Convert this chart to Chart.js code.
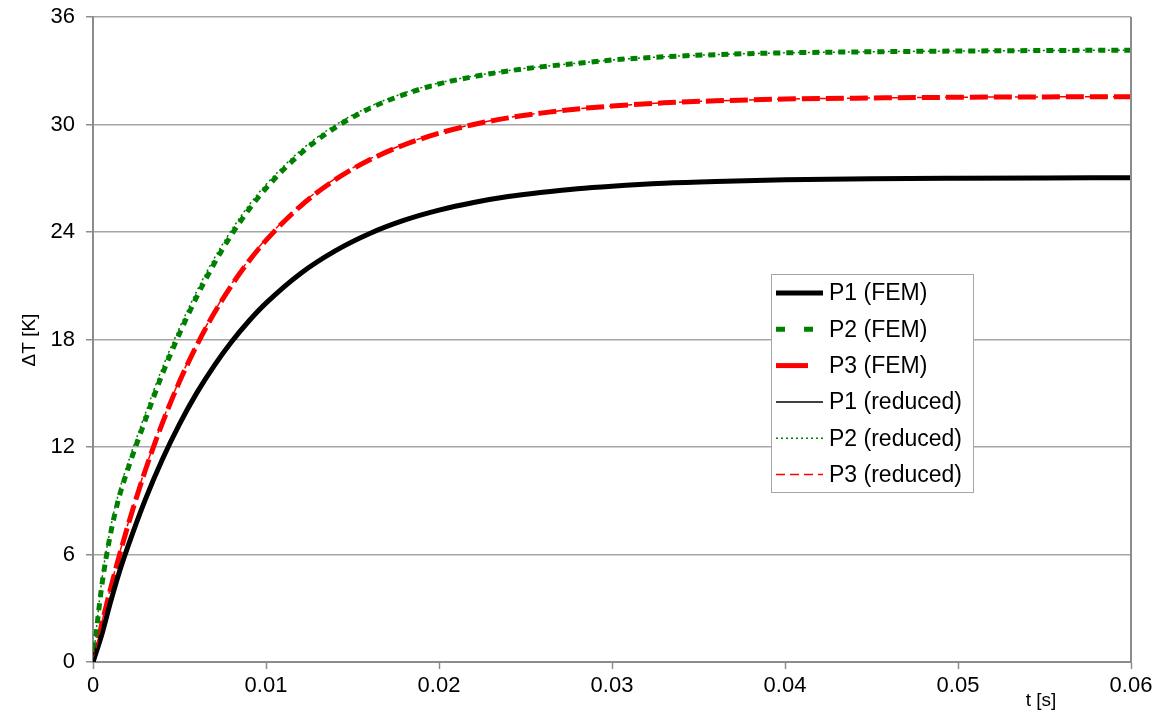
<!DOCTYPE html>
<html>
<head>
<meta charset="utf-8">
<script src="https://cdn.jsdelivr.net/npm/chart.js@4/dist/chart.umd.min.js"></script>
<style>
  html, body { margin: 0; padding: 0; background: #fff; }
  #wrap { width: 1176px; height: 714px; }
</style>
</head>
<body>
<div id="wrap"><canvas id="tempChart" width="1176" height="714"></canvas></div>
<script>
// time axis [s]
const tValues = [0, 0.0005, 0.001, 0.0015, 0.002, 0.003, 0.004, 0.005, 0.006, 0.007, 0.008, 0.009, 0.010,
    0.012, 0.014, 0.016, 0.018, 0.020, 0.022, 0.024, 0.026, 0.028, 0.030, 0.033, 0.036, 0.040, 0.045, 0.050, 0.055, 0.060];

// temperature rise [K]
const p1Fem = [0, 1.5, 3.3, 4.96, 6.4, 9.01, 11.29, 13.28, 15.02, 16.53, 17.86, 19.02, 20.03,
    21.69, 22.95, 23.92, 24.66, 25.22, 25.65, 25.98, 26.22, 26.42, 26.56, 26.72, 26.82, 26.91, 26.97, 27.0, 27.02, 27.03];
const p2Fem = [0, 4.2, 7.09, 9.17, 10.72, 13.44, 16.05, 18.33, 20.39, 22.23, 23.84, 25.24, 26.44,
    28.38, 29.83, 30.9, 31.68, 32.27, 32.67, 32.99, 33.23, 33.41, 33.6, 33.78, 33.9, 34.0, 34.06, 34.1, 34.13, 34.15];
const p3Fem = [0, 2.09, 4.04, 5.86, 7.56, 10.63, 13.31, 15.65, 17.68, 19.46, 21.01, 22.36, 23.53,
    25.45, 26.92, 28.03, 28.87, 29.51, 30.0, 30.37, 30.65, 30.87, 31.03, 31.21, 31.32, 31.42, 31.48, 31.52, 31.54, 31.55];
const p1Reduced = [0, 1.55, 3.35, 5.0, 6.44, 9.05, 11.32, 13.3, 15.04, 16.55, 17.87, 19.03, 20.04,
    21.69, 22.95, 23.92, 24.66, 25.22, 25.65, 25.98, 26.22, 26.42, 26.56, 26.72, 26.82, 26.91, 26.97, 27.0, 27.02, 27.03];
const p2Reduced = [0, 4.5, 7.4, 9.5, 11.05, 13.8, 16.4, 18.65, 20.7, 22.52, 24.1, 25.48, 26.65,
    28.55, 29.97, 31.0, 31.76, 32.32, 32.7, 33.01, 33.24, 33.42, 33.6, 33.78, 33.9, 34.0, 34.06, 34.1, 34.13, 34.15];
const p3Reduced = [0, 2.15, 4.12, 5.95, 7.65, 10.72, 13.4, 15.74, 17.76, 19.54, 21.09, 22.44, 23.61,
    25.52, 26.98, 28.08, 28.91, 29.54, 30.02, 30.38, 30.66, 30.87, 31.03, 31.21, 31.32, 31.42, 31.48, 31.52, 31.54, 31.55];

const seriesNames = ['P1 (FEM)', 'P2 (FEM)', 'P3 (FEM)', 'P1 (reduced)', 'P2 (reduced)', 'P3 (reduced)'];
const yTicks = [0, 6, 12, 18, 24, 30, 36];
const xTicks = [0, 0.01, 0.02, 0.03, 0.04, 0.05, 0.06];

const FONT = '"Liberation Sans", Arial, sans-serif';

function toPoints(vals) {
    return tValues.map(function(t, i) { return { x: t, y: vals[i] }; });
}

function makeSet(name, vals, color, width, dash, order, legendDash) {
    return {
        label: name,
        data: toPoints(vals),
        borderColor: color,
        backgroundColor: color,
        borderWidth: width,
        borderDash: dash,
        legendDash: legendDash || dash,
        pointRadius: 0,
        fill: false,
        showLine: true,
        cubicInterpolationMode: 'monotone',
        order: order
    };
}

// custom boxed legend inside the plot + axis titles + right frame
const decorPlugin = {
    id: 'decor',
    afterDatasetsDraw: function(chart) {
        const ctx = chart.ctx;
        const area = chart.chartArea;
        ctx.save();
        // right frame line
        ctx.strokeStyle = '#8c8c8c';
        ctx.lineWidth = 2;
        ctx.beginPath();
        ctx.moveTo(area.right, area.top);
        ctx.lineTo(area.right, area.bottom);
        ctx.stroke();

        // legend box
        const bx = 771, by = 274, bw = 202, bh = 218;
        ctx.fillStyle = '#fff';
        ctx.fillRect(bx, by, bw, bh);
        ctx.strokeStyle = '#a6a6a6';
        ctx.lineWidth = 1;
        ctx.strokeRect(bx + 0.5, by + 0.5, bw, bh);
        ctx.font = '23px ' + FONT;
        ctx.textBaseline = 'middle';
        ctx.textAlign = 'left';
        chart.data.datasets.forEach(function(ds, i) {
            const yy = 293 + i * 36.3;
            ctx.strokeStyle = ds.borderColor;
            ctx.lineWidth = ds.borderWidth;
            ctx.setLineDash(ds.legendDash);
            ctx.beginPath();
            ctx.moveTo(776, yy);
            ctx.lineTo(823, yy);
            ctx.stroke();
            ctx.setLineDash([]);
            ctx.fillStyle = '#000';
            ctx.fillText(ds.label, 829, yy + 1);
        });

        // axis titles
        ctx.fillStyle = '#000';
        ctx.font = '19px ' + FONT;
        ctx.textAlign = 'center';
        ctx.textBaseline = 'middle';
        ctx.fillText('t [s]', 1041, 701);
        ctx.translate(30, 340);
        ctx.rotate(-Math.PI / 2);
        ctx.fillText('\u0394T [K]', 0, 0);
        ctx.restore();
    }
};

window.addEventListener('DOMContentLoaded', function() {
    const ctx = document.getElementById('tempChart').getContext('2d');
    const datasets = [
        makeSet(seriesNames[0], p1Fem, '#000000', 5, [], 2),
        makeSet(seriesNames[1], p2Fem, '#008000', 5, [7, 6], 2, [9, 19]),
        makeSet(seriesNames[2], p3Fem, '#ff0000', 5, [18, 6], 2, [32, 20]),
        makeSet(seriesNames[3], p1Reduced, '#000000', 1.5, [], 1),
        makeSet(seriesNames[4], p2Reduced, '#008000', 1.5, [2, 3], 1),
        makeSet(seriesNames[5], p3Reduced, '#ff0000', 1.5, [9, 5], 1)
    ];
    new Chart(ctx, {
        type: 'scatter',
        data: { datasets: datasets },
        options: {
            responsive: false,
            animation: false,
            layout: { padding: { left: 0, top: 17, right: 45, bottom: 0 } },
            plugins: {
                legend: { display: false },
                tooltip: { enabled: false }
            },
            scales: {
                x: {
                    type: 'linear',
                    min: 0,
                    max: 0.06,
                    afterFit: function(scale) {
                        scale.height = 52;
                        scale.paddingLeft = 0;
                        scale.paddingRight = 0;
                    },
                    afterBuildTicks: function(scale) {
                        scale.ticks = xTicks.map(function(v) { return { value: v }; });
                    },
                    ticks: {
                        color: '#000',
                        font: { family: FONT, size: 22 },
                        padding: 4,
                        maxRotation: 0,
                        autoSkip: false,
                        callback: function(v) { return v === 0 ? '0' : Number(v).toFixed(2); }
                    },
                    grid: {
                        drawOnChartArea: false,
                        drawTicks: true,
                        tickLength: 7,
                        tickColor: '#8c8c8c',
                        tickWidth: 1.5
                    },
                    border: { display: true, color: '#8c8c8c', width: 2 }
                },
                y: {
                    type: 'linear',
                    min: 0,
                    max: 36,
                    afterFit: function(scale) {
                        scale.width = 93;
                        scale.paddingTop = 0;
                        scale.paddingBottom = 0;
                    },
                    afterBuildTicks: function(scale) {
                        scale.ticks = yTicks.map(function(v) { return { value: v }; });
                    },
                    ticks: {
                        color: '#000',
                        font: { family: FONT, size: 22 },
                        padding: 11,
                        autoSkip: false
                    },
                    grid: {
                        color: '#a6a6a6',
                        lineWidth: 1.5,
                        drawTicks: true,
                        tickLength: 7,
                        tickColor: '#8c8c8c'
                    },
                    border: { display: true, color: '#8c8c8c', width: 2 }
                }
            }
        },
        plugins: [decorPlugin]
    });
});
</script>
</body>
</html>
